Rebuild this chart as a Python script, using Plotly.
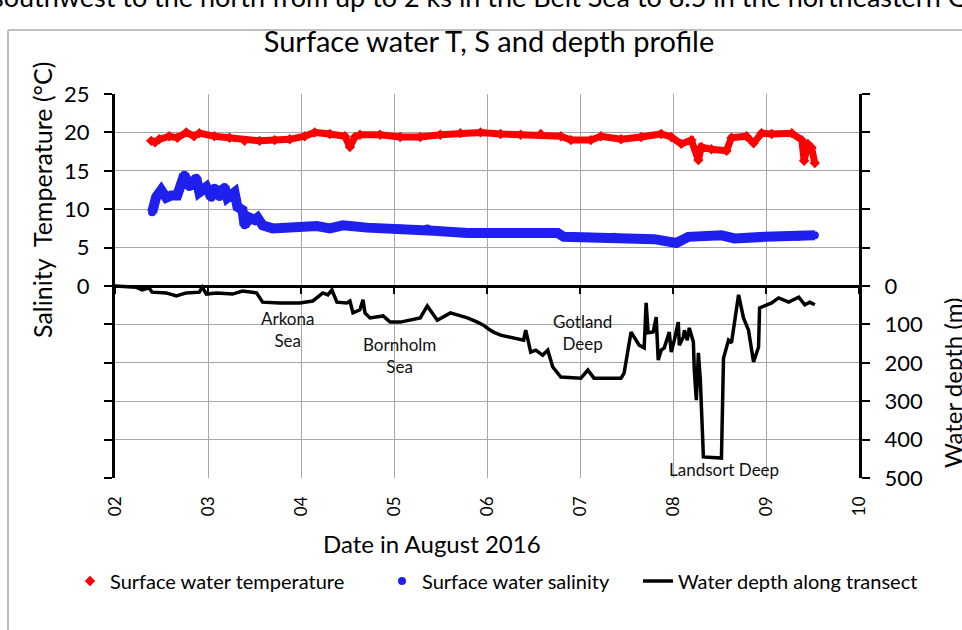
import plotly.graph_objects as go

# ---------------- data ----------------
temp_day = [2.389, 2.43, 2.475, 2.583, 2.67, 2.767, 2.85, 2.907, 3.069, 3.231,
            3.393, 3.555, 3.717, 3.879, 4.040, 4.148, 4.310, 4.472, 4.526, 4.58,
            4.634, 4.850, 5.066, 5.282, 5.498, 5.714, 5.930, 6.146, 6.362, 6.578,
            6.794, 6.902, 7.117, 7.225, 7.441, 7.657, 7.873, 7.981, 8.089, 8.197,
            8.273, 8.305, 8.413, 8.575, 8.629, 8.791, 8.866, 8.953, 9.061, 9.277,
            9.385, 9.41, 9.45, 9.49, 9.525]
temp_val = [18.9, 18.7, 19.1, 19.5, 19.3, 20.0, 19.5, 19.9, 19.5, 19.3,
            18.9, 18.9, 19.0, 19.1, 19.5, 20.0, 19.8, 19.5, 18.1, 19.4,
            19.7, 19.7, 19.4, 19.4, 19.7, 19.9, 20.0, 19.8, 19.7, 19.8,
            19.5, 19.0, 19.0, 19.5, 19.1, 19.4, 19.8, 19.4, 18.5, 19.0,
            16.4, 18.1, 17.8, 17.6, 19.3, 19.5, 18.6, 19.9, 19.8, 19.9,
            19.0, 16.3, 18.5, 18.0, 16.0]

sal_day = [2.399, 2.443, 2.497, 2.551, 2.605, 2.669, 2.745, 2.799, 2.874, 2.907,
           2.982, 3.036, 3.069, 3.123, 3.177, 3.209, 3.285, 3.317, 3.371, 3.393,
           3.447, 3.501, 3.533, 3.587, 3.695, 3.986, 4.170, 4.310, 4.451, 4.710,
           5.066, 5.358, 5.422, 5.789, 6.146, 6.470, 6.761, 6.826, 7.085, 7.366,
           7.798, 8.035, 8.165, 8.521, 8.661, 8.985, 9.352, 9.525]
sal_val = [9.6, 11.6, 12.5, 11.5, 11.8, 11.8, 14.5, 12.9, 14.1, 12.2,
           12.9, 11.5, 12.8, 11.6, 12.9, 11.5, 12.2, 10.3, 9.9, 7.9,
           8.9, 8.6, 8.9, 7.9, 7.5, 7.7, 7.8, 7.5, 7.9, 7.6,
           7.5, 7.5, 7.2, 6.9, 6.9, 7.0, 6.9, 6.4, 6.4, 6.4,
           6.1, 5.6, 6.4, 6.6, 6.2, 6.4, 6.4, 6.6]

depth_day = [2.000, 2.227, 2.292, 2.367, 2.399, 2.551, 2.659, 2.767, 2.907, 2.939,
             2.982, 3.090, 3.263, 3.371, 3.522, 3.587, 3.771, 3.986, 4.127, 4.235,
             4.289, 4.332, 4.386, 4.494, 4.526, 4.559, 4.634, 4.667, 4.688, 4.742,
             4.883, 4.958, 5.066, 5.282, 5.358, 5.466, 5.606, 5.789, 5.897, 5.962,
             6.016, 6.070, 6.146, 6.286, 6.394, 6.416, 6.470, 6.524, 6.599, 6.653,
             6.707, 6.794, 7.009, 7.085, 7.150, 7.441, 7.474, 7.549, 7.636, 7.690,
             7.711, 7.733, 7.787, 7.819, 7.841, 7.873, 7.906, 7.960, 7.981, 8.014,
             8.057, 8.068, 8.111, 8.122, 8.154, 8.175, 8.219, 8.229, 8.251, 8.273,
             8.294, 8.327, 8.521, 8.543, 8.597, 8.629, 8.705, 8.758, 8.812, 8.866,
             8.920, 8.931, 9.061, 9.136, 9.244, 9.352, 9.417, 9.471, 9.525]
depth_val = [0, 3, 10, 5, 16, 18, 26, 18, 16, 3,
             21, 18, 21, 13, 18, 42, 44, 44, 39, 18,
             23, 10, 42, 44, 39, 70, 62, 36, 70, 83,
             78, 94, 94, 83, 52, 89, 70, 83, 94, 102,
             112, 120, 128, 135, 141, 115, 172, 167, 180, 167,
             211, 237, 240, 219, 240, 240, 227, 120, 154, 161,
             44, 122, 120, 81, 193, 167, 161, 120, 172, 141,
             94, 154, 133, 115, 141, 109, 146, 219, 297, 174,
             245, 445, 448, 188, 141, 148, 23, 83, 115, 198,
             159, 57, 44, 31, 42, 29, 49, 42, 49]

day_ticks = [2, 3, 4, 5, 6, 7, 8, 9, 10]
day_labels = ["02", "03", "04", "05", "06", "07", "08", "09", "10"]
left_ticks = [-25, -20, -15, -10, -5, 0, 5, 10, 15, 20, 25]
left_labels = ["", "", "", "", "", "0", "5", "10", "15", "20", "25"]
right_ticks = [-500, -400, -300, -200, -100, 0, 100, 200, 300, 400, 500]
right_labels = ["", "", "", "", "", "0", "100", "200", "300", "400", "500"]

sea_names = ["Arkona<br>Sea", "Bornholm<br>Sea", "Gotland<br>Deep", "Landsort Deep"]
sea_day = [3.857, 5.055, 7.031, 8.543]
sea_depth = [112, 181, 122, 477]

assert len(temp_day) == len(temp_val)
assert len(sal_day) == len(sal_val)
assert len(depth_day) == len(depth_val)

# ---------------- geometry helpers (pixel -> paper) ----------------
W, H = 962, 630
L, R, T, B = 115, 859, 94, 478


def px(xp):
    return (xp - L) / (R - L)


def py(yp):
    return (B - yp) / (B - T)


FONT = "Lato, Carlito, 'Open Sans', sans-serif"
RED = "#ff0000"
BLUE = "#2020ee"
GRID = "#a6a6a6"

fig = go.Figure()

# temperature band
fig.add_trace(go.Scatter(x=temp_day, y=temp_val, mode="lines", line=dict(color=RED, width=7),
                         showlegend=False, hoverinfo="skip"))
fig.add_trace(go.Scatter(x=temp_day, y=temp_val, mode="markers",
                         marker=dict(symbol="diamond", size=8, color=RED),
                         name="Surface water temperature", legend="legend"))
# salinity band
fig.add_trace(go.Scatter(x=sal_day, y=sal_val, mode="lines", line=dict(color=BLUE, width=10),
                         showlegend=False, hoverinfo="skip"))
fig.add_trace(go.Scatter(x=sal_day, y=sal_val, mode="markers",
                         marker=dict(symbol="circle", size=8, color=BLUE),
                         name="Surface water salinity", legend="legend2"))
# depth
fig.add_trace(go.Scatter(x=depth_day, y=depth_val, mode="lines", xaxis="x2", yaxis="y2",
                         line=dict(color="black", width=3.5),
                         name="Water depth along transect", legend="legend3"))

legend_common = dict(orientation="h", yanchor="middle", xanchor="left",
                     font=dict(family=FONT, size=20, color="black"),
                     bgcolor="rgba(0,0,0,0)")

fig.update_layout(
    width=W, height=H,
    margin=dict(l=L, r=W - R, t=T, b=H - B, pad=0, autoexpand=False),
    paper_bgcolor="white", plot_bgcolor="white",
    font=dict(family=FONT, color="black"),
    title=dict(text="Surface water T, S and depth profile", x=px(489), xref="paper",
               xanchor="center", y=1 - 42 / H, yanchor="middle",
               font=dict(family=FONT, size=29, color="black")),
    xaxis=dict(range=[2, 10], tickvals=day_ticks, ticktext=day_labels, tickangle=-90,
               showgrid=True, gridcolor=GRID, gridwidth=1, ticks="", showline=False,
               zeroline=False, tickfont=dict(family=FONT, size=17), ticklabelstandoff=14),
    xaxis2=dict(range=[2, 10], overlaying="x", anchor="free", position=0.5,
                tickvals=day_ticks, showticklabels=False, ticks="outside", ticklen=6,
                tickwidth=2, tickcolor="black", showgrid=False, showline=True,
                linecolor="black", linewidth=3, zeroline=False),
    yaxis=dict(range=[-25, 25], tickvals=left_ticks, ticktext=left_labels,
               ticks="outside", ticklen=8, tickwidth=2, tickcolor="black",
               showline=True, linecolor="black", linewidth=3,
               showgrid=True, gridcolor=GRID, gridwidth=1, zeroline=False,
               tickfont=dict(family=FONT, size=22), ticklabelstandoff=10),
    yaxis2=dict(range=[500, -500], overlaying="y", side="right", anchor="x",
                tickvals=right_ticks, ticktext=right_labels,
                ticks="outside", ticklen=8, tickwidth=2, tickcolor="black",
                showline=True, linecolor="black", linewidth=3,
                showgrid=False, zeroline=False, tickfont=dict(family=FONT, size=22),
                ticklabelstandoff=10),
    legend=dict(x=px(70), y=py(581), **legend_common),
    legend2=dict(x=px(382), y=py(581), **legend_common),
    legend3=dict(x=px(638), y=py(581), **legend_common),
    showlegend=True,
)

annos = [
    dict(text="Salinity  Temperature (°C)", textangle=-90, x=px(42), y=py(200),
         xref="paper", yref="paper", xanchor="center", yanchor="middle",
         showarrow=False, font=dict(size=25)),
    dict(text="Water depth (m)", textangle=-90, x=px(952), y=py(383),
         xref="paper", yref="paper", xanchor="center", yanchor="middle",
         showarrow=False, font=dict(size=24)),
    dict(text="Date in August 2016", x=px(432), y=py(543), xref="paper", yref="paper",
         xanchor="center", yanchor="middle", showarrow=False, font=dict(size=24)),
    dict(text="southwest to the north from up to 2 ks in the Belt Sea to 8.5 in the northeastern Gotland Sea",
         x=px(-10), y=py(-3), xref="paper", yref="paper", xanchor="left", yanchor="middle",
         showarrow=False, font=dict(size=27)),
]
for name, d, v in zip(sea_names, sea_day, sea_depth):
    annos.append(dict(text=name, x=d, y=v, xref="x", yref="y2", showarrow=False,
                      xanchor="center", yanchor="middle",
                      font=dict(size=17, color="#111111")))
fig.update_layout(annotations=annos)

# chart-area border (light grey, top and left edges visible)
fig.add_shape(type="line", xref="paper", yref="paper", x0=px(8), x1=px(980),
              y0=py(30), y1=py(30), line=dict(color="#bfbfbf", width=2))
fig.add_shape(type="line", xref="paper", yref="paper", x0=px(8), x1=px(8),
              y0=py(30), y1=py(650), line=dict(color="#bfbfbf", width=2))

fig.write_html("out.html", config={"displayModeBar": False},
               post_script="document.body.style.margin='0px';")
